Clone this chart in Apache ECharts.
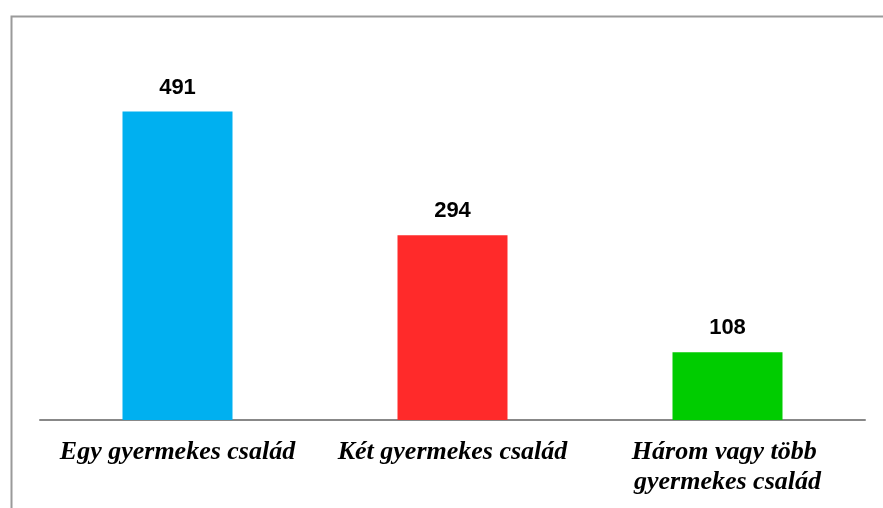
<!DOCTYPE html>
<html>
<head>
<meta charset="utf-8">
<script src="https://cdn.jsdelivr.net/npm/echarts@6/dist/echarts.min.js"></script>
<style>html,body{margin:0;padding:0;background:#fff}#c{width:883px;height:508px}</style>
</head>
<body>
<div id="c"></div>
<script>
const categories = ['Egy gyermekes család', 'Két gyermekes család', 'Három vagy több gyermekes család'];
const values = [491, 294, 108];
const colors = ['#00B0F0', '#FF2A2A', '#00CC00'];

const chart = echarts.init(document.getElementById('c'), null, {renderer: 'canvas'});
chart.setOption({
  animation: false,
  backgroundColor: '#fff',
  graphic: [{
    type: 'rect', left: 9, top: 14, silent: true,
    shape: {x: 0, y: 0, width: 900, height: 520},
    style: {fill: 'none', stroke: '#9a9a9a', lineWidth: 2}
  }],
  grid: {left: 40, right: 18, top: 43, bottom: 88, containLabel: false},
  xAxis: {
    type: 'category',
    data: categories,
    axisLine: {lineStyle: {color: '#888', width: 2}},
    axisTick: {show: false},
    axisLabel: {
      interval: 0, margin: 17, width: 265, overflow: 'break',
      fontFamily: 'Liberation Serif', fontStyle: 'italic', fontWeight: 'bold',
      fontSize: 26, color: '#000', lineHeight: 30
    }
  },
  yAxis: {
    type: 'value', min: 0, max: 600,
    show: false, splitLine: {show: false}
  },
  series: [{
    type: 'bar',
    barWidth: '40%',
    data: values.map((v, i) => ({value: v, itemStyle: {color: colors[i]}})),
    label: {
      show: true, position: 'top', distance: 13,
      fontFamily: 'Liberation Sans', fontWeight: 'bold', fontSize: 22, color: '#000'
    }
  }]
});
</script>
</body>
</html>
